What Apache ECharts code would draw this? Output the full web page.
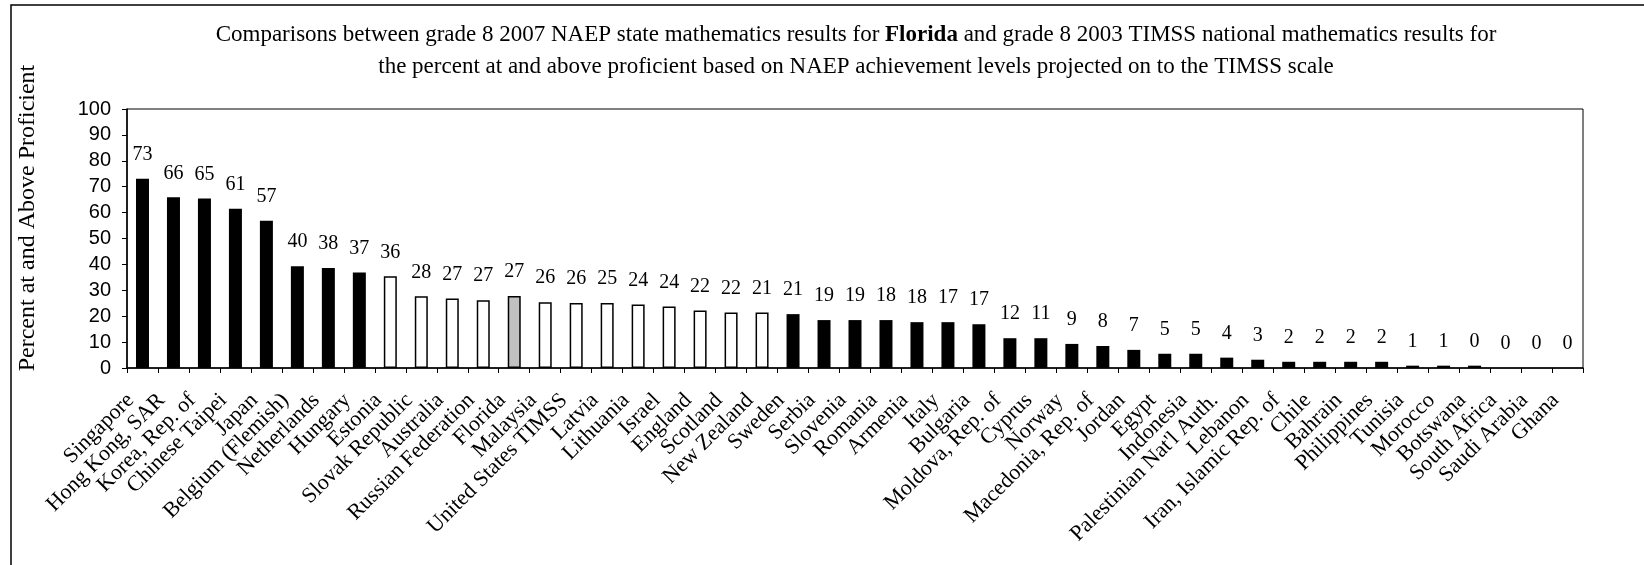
<!DOCTYPE html>
<html>
<head>
<meta charset="utf-8">
<script src="https://cdn.jsdelivr.net/npm/echarts@6/dist/echarts.min.js"></script>
<style>
  html, body { margin: 0; padding: 0; background: #fff; }
  #chart { width: 1644px; height: 565px; }
</style>
</head>
<body>
<div id="chart"></div>
<script>
var chart = echarts.init(document.getElementById('chart'));

// countries, in the order shown
var countries = ['Singapore', 'Hong Kong, SAR', 'Korea, Rep. of', 'Chinese Taipei', 'Japan',
    'Belgium (Flemish)', 'Netherlands', 'Hungary', 'Estonia', 'Slovak Republic', 'Australia',
    'Russian Federation', 'Florida', 'Malaysia', 'United States TIMSS', 'Latvia', 'Lithuania',
    'Israel', 'England', 'Scotland', 'New Zealand', 'Sweden', 'Serbia', 'Slovenia', 'Romania',
    'Armenia', 'Italy', 'Bulgaria', 'Moldova, Rep. of', 'Cyprus', 'Norway', 'Macedonia, Rep. of',
    'Jordan', 'Egypt', 'Indonesia', "Palestinian Nat'l Auth.", 'Lebanon', 'Iran, Islamic Rep. of',
    'Chile', 'Bahrain', 'Philippines', 'Tunisia', 'Morocco', 'Botswana', 'South Africa',
    'Saudi Arabia', 'Ghana'];

// bar heights (percent at and above proficient)
var barValues = [73.1, 65.9, 65.4, 61.5, 56.9, 39.3, 38.6, 36.9, 35.4, 27.7, 26.8, 26.2, 27.8,
    25.4, 25.1, 25.1, 24.5, 23.7, 22.2, 21.4, 21.4, 20.8, 18.5, 18.5, 18.5, 17.7, 17.7, 16.9,
    11.5, 11.5, 9.3, 8.5, 7.0, 5.5, 5.5, 4.0, 3.2, 2.4, 2.4, 2.4, 2.4, 0.9, 0.9, 0.9, 0, 0, 0];

// printed labels above the bars
var valueLabels = [73, 66, 65, 61, 57, 40, 38, 37, 36, 28, 27, 27, 27, 26, 26, 25, 24, 24, 22,
    22, 21, 21, 19, 19, 18, 18, 17, 17, 12, 11, 9, 8, 7, 5, 5, 4, 3, 2, 2, 2, 2, 1, 1, 0, 0, 0, 0];

// D = significantly different from Florida, N = not different, F = Florida
var compare = ['D', 'D', 'D', 'D', 'D', 'D', 'D', 'D', 'N', 'N', 'N', 'N', 'F', 'N', 'N', 'N',
    'N', 'N', 'N', 'N', 'N', 'D', 'D', 'D', 'D', 'D', 'D', 'D', 'D', 'D', 'D', 'D', 'D', 'D',
    'D', 'D', 'D', 'D', 'D', 'D', 'D', 'D', 'D', 'D', 'D', 'D', 'D'];

var yTicks = { min: 0, max: 100, interval: 10 };

var serif = '"Liberation Serif", "Times New Roman", serif';
var sans = '"Liberation Sans", Arial, sans-serif';

var fills = { D: '#000000', N: '#ffffff', F: '#c0c0c0' };

var barData = barValues.map(function (v, i) {
    return {
        value: v,
        itemStyle: { color: fills[compare[i]], borderColor: '#000', borderWidth: compare[i] === 'D' ? 0 : 1.5 }
    };
});

var option = {
    backgroundColor: '#fff',
    animation: false,
    graphic: [
        { type: 'rect', shape: { x: 11, y: 5, width: 1700, height: 620 },
          style: { fill: 'none', stroke: '#000', lineWidth: 1.5 } },
        { type: 'text', x: 856, y: 35,
          style: {
              text: '{n|Comparisons between grade 8 2007 NAEP state mathematics results for }{b|Florida}{n| and grade 8 2003 TIMSS national mathematics results for}',
              align: 'center', verticalAlign: 'middle',
              rich: {
                  n: { fontFamily: serif, fontSize: 23, fill: '#000' },
                  b: { fontFamily: serif, fontSize: 23, fontWeight: 'bold', fill: '#000' }
              }
          } },
        { type: 'text', x: 856, y: 67,
          style: {
              text: 'the percent at and above proficient based on NAEP achievement levels projected on to the TIMSS scale',
              align: 'center', verticalAlign: 'middle',
              fontFamily: serif, fontSize: 23, fill: '#000'
          } },
        { type: 'text', x: 28, y: 218, rotation: Math.PI / 2,
          style: {
              text: 'Percent at and Above Proficient',
              align: 'center', verticalAlign: 'middle',
              fontFamily: serif, fontSize: 24, fill: '#000'
          } }
    ],
    grid: {
        left: 127, right: 61, top: 109, bottom: 197,
        show: true, borderColor: '#000', borderWidth: 1
    },
    xAxis: {
        type: 'category',
        data: countries,
        axisLine: { lineStyle: { color: '#000', width: 1.5 } },
        axisTick: { show: true, length: 5, lineStyle: { color: '#000' } },
        axisLabel: {
            interval: 0, rotate: 45, margin: 17,
            padding: [0, 17, 0, 0],
            fontFamily: serif, fontSize: 22, color: '#000'
        }
    },
    yAxis: {
        type: 'value',
        min: yTicks.min, max: yTicks.max, interval: yTicks.interval,
        splitLine: { show: false },
        axisLine: { show: true, lineStyle: { color: '#000', width: 1.5 } },
        axisTick: { show: true, length: 5, lineStyle: { color: '#000' } },
        axisLabel: { margin: 16, fontFamily: sans, fontSize: 20, color: '#000' }
    },
    series: [{
        type: 'bar',
        data: barData,
        barWidth: 13,
        label: {
            show: true,
            position: 'top',
            distance: 14,
            fontFamily: serif,
            fontSize: 20,
            color: '#000',
            formatter: function (p) { return valueLabels[p.dataIndex]; }
        }
    }]
};

chart.setOption(option);
</script>
</body>
</html>
